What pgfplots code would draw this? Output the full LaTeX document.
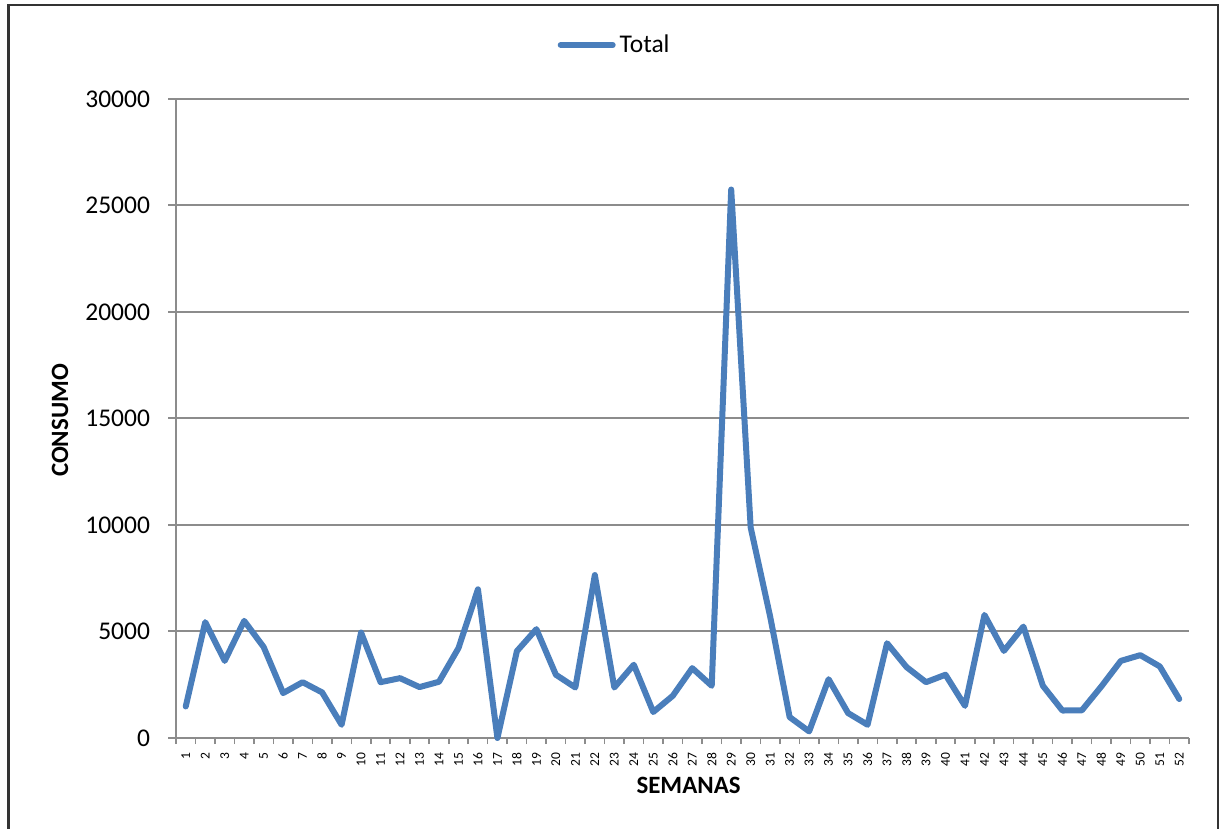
\documentclass[border=0pt]{standalone}
\usepackage{pgfplots}
\pgfplotsset{compat=1.18}
\usepackage{fontspec}
\setmainfont{Carlito}
\definecolor{excelblue}{HTML}{4A7EBB}
\definecolor{gridgray}{HTML}{8C8C8C}
\begin{document}
\begin{tikzpicture}
\useasboundingbox (0,0) rectangle (612bp,414.5bp);
\draw[line width=1.3bp, black!80] (4.2bp,0) -- (4.2bp,412bp) -- (609bp,412bp) -- (609bp,0);
\begin{axis}[
  at={(88bp,45.5bp)}, anchor=south west,
  scale only axis,
  width=506.5bp, height=319.5bp,
  xmin=0.5, xmax=52.5,
  ymin=0, ymax=30000,
  axis x line*=bottom, axis y line*=left,
  axis line style={gridgray, line width=1bp, -},
  xtick={1,...,52},
  major x tick style={draw=none},
  minor xtick={0.5,1.5,...,52.5},
  minor x tick style={gridgray, line width=0.8bp},
  minor tick length=3bp,
  ytick={0,5000,...,30000},
  major y tick style={gridgray, line width=1bp},
  major tick length=4bp,
  tick align=outside,
  ymajorgrids,
  grid style={gridgray, line width=1bp},
  scaled y ticks=false,
  /pgf/number format/assume math mode=true,
  yticklabel style={font=\fontsize{12.8}{14}\selectfont, /pgf/number format/1000 sep={}, xshift=-5.5bp},
  xticklabel style={font=\fontsize{6.8}{7}\selectfont, rotate=90, anchor=east, yshift=0bp},
  xlabel={\textbf{SEMANAS}},
  ylabel={\textbf{CONSUMO}},
  label style={font=\fontsize{12.5}{14}\selectfont},
  xlabel style={at={(axis description cs:0.506,-0.0736)}, anchor=center},
  ylabel style={at={(axis description cs:-0.1145,0.497)}, anchor=center},
  legend style={at={(axis description cs:0.434,1.0845)}, anchor=center, draw=none, fill=none, font=\fontsize{12.8}{14}\selectfont},
  legend image code/.code={\draw[#1] (0bp,0bp) -- (26bp,0bp);},
  clip=false,
]
\addplot[excelblue, line width=3bp, line join=round, line cap=round] coordinates {
(1,1480) (2,5440) (3,3620) (4,5500) (5,4270) (6,2110) (7,2620) (8,2140) (9,620) (10,4950)
(11,2620) (12,2810) (13,2390) (14,2640) (15,4220) (16,6980) (17,0) (18,4080) (19,5110) (20,2970)
(21,2370) (22,7650) (23,2370) (24,3440) (25,1220) (26,1980) (27,3280) (28,2450) (29,25750) (30,9880)
(31,5700) (32,980) (33,310) (34,2760) (35,1170) (36,620) (37,4450) (38,3330) (39,2620) (40,2970)
(41,1510) (42,5780) (43,4090) (44,5230) (45,2450) (46,1290) (47,1300) (48,2420) (49,3620) (50,3890)
(51,3360) (52,1830)
};
\addlegendentry{Total}
\end{axis}
\end{tikzpicture}
\end{document}
